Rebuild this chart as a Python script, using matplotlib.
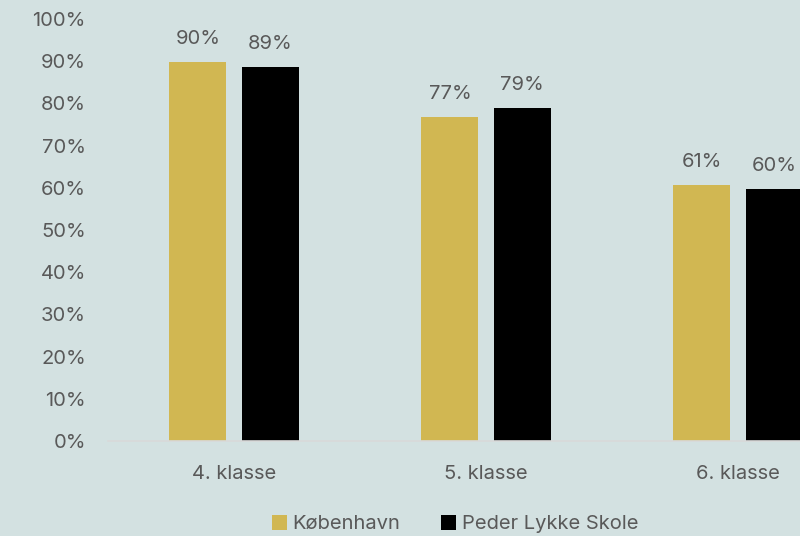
import matplotlib
matplotlib.use("Agg")
import matplotlib.pyplot as plt
import numpy as np

categories = ["4. klasse", "5. klasse", "6. klasse"]
series_names = ["København", "Peder Lykke Skole"]
kobenhavn = [0.898, 0.768, 0.606]
peder_lykke = [0.886, 0.790, 0.598]
yticks = [0, 0.1, 0.2, 0.3, 0.4, 0.5, 0.6, 0.7, 0.8, 0.9, 1.0]

bg = "#d3e1e1"
gold = "#d1b752"
black = "#000000"
txt = "#595959"
fs = 14.5

plt.rcParams['font.family'] = ['Inter', 'DejaVu Sans']

fig = plt.figure(figsize=(8, 5.36), dpi=100, facecolor=bg)
ax = fig.add_axes([0.135, 0.1772, 0.865, 0.9646 - 0.1772])
ax.set_facecolor(bg)

x = np.arange(len(categories))
w = 0.226
off = 0.143
b1 = ax.bar(x - off, kobenhavn, w, color=gold, label=series_names[0])
b2 = ax.bar(x + off, peder_lykke, w, color=black, label=series_names[1])

for bars, vals in ((b1, kobenhavn), (b2, peder_lykke)):
    for r, v in zip(bars, vals):
        ax.annotate(f"{v*100:.0f}%", (r.get_x() + r.get_width() / 2, v),
                    xytext=(0, 10), textcoords="offset points",
                    ha="center", va="bottom", fontsize=fs, color=txt)

ax.set_ylim(0, 1)
ax.set_xlim(-0.5, 2.246)
ax.set_yticks(yticks)
ax.set_yticklabels([f"{int(round(t*100))}%" for t in yticks])
ax.set_xticks(x)
ax.set_xticklabels(categories)
ax.tick_params(axis="both", length=0, colors=txt, labelsize=fs)
ax.tick_params(axis="y", pad=16)
ax.tick_params(axis="x", pad=17)
for s in ["top", "right", "left"]:
    ax.spines[s].set_visible(False)
ax.spines["bottom"].set_color("#d9d9d9")
ax.spines["bottom"].set_linewidth(1.2)

leg = fig.legend(handles=[b1, b2], labels=series_names, loc="center",
                 bbox_to_anchor=(455 / 800, 1 - 524 / 536), ncol=2, frameon=False,
                 fontsize=fs, handlelength=0.75, handleheight=0.75,
                 handletextpad=0.3, columnspacing=2.0)
for t in leg.get_texts():
    t.set_color(txt)

fig.savefig("out.png", dpi=100, facecolor=bg)
